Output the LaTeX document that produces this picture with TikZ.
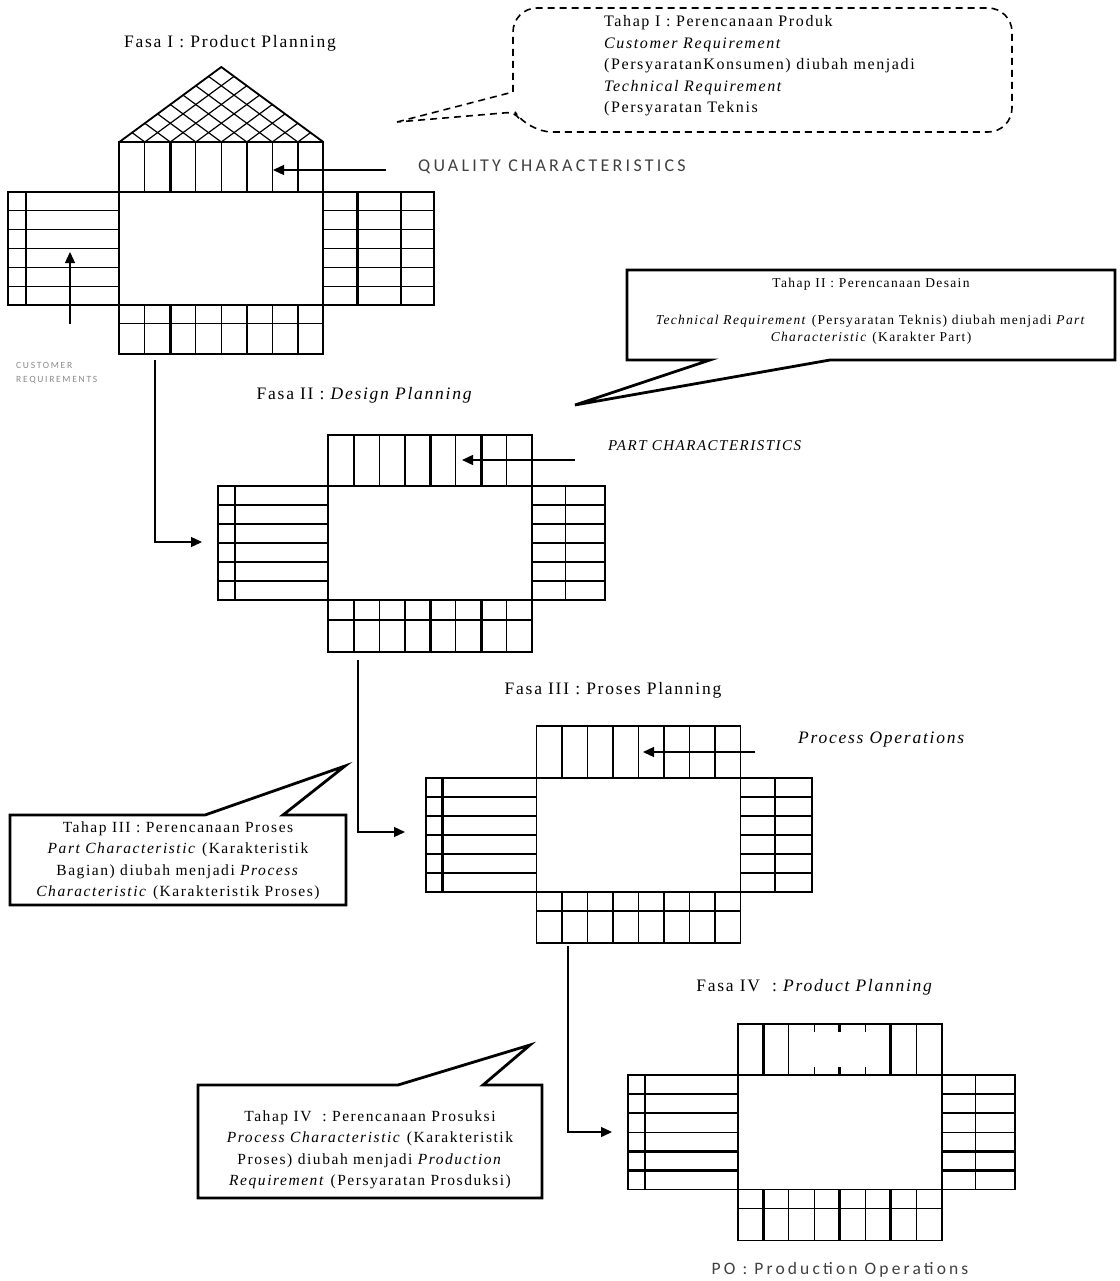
\documentclass[tikz,border=0pt]{standalone}
\usepackage{fontspec}
\setmainfont{Liberation Serif}[LetterSpace=10]
\newfontfamily\sansf{Carlito}[LetterSpace=18]
\usetikzlibrary{arrows.meta}
\definecolor{sgray}{HTML}{404040}
\definecolor{lgray}{HTML}{8A8A8A}
\begin{document}
\begin{tikzpicture}[x=1pt,y=-1pt,
  ln/.style={line width=1.2pt},
  lnk/.style={line width=2.6pt},
  lno/.style={line width=1.8pt},
  arr/.style={line width=1.3pt,-{Triangle[length=11pt,width=10pt]}},
  callout/.style={line width=2.8pt,line join=miter},
  dashc/.style={line width=1.6pt,dash pattern=on 7pt off 5pt},
  title/.style={font=\fontsize{17.5}{20}\selectfont,inner sep=0pt},
  ctext/.style={inner sep=0pt,align=center}]
\fill[white] (0,0) rectangle (1119,1281);
\useasboundingbox (0,0) rectangle (1119,1281);

% ================= Phase I =================
\node[title] (f1) at (230,43) {Fasa I : Product Planning};
\begin{scope}
  \clip (119.3,142) -- (221.3,67) -- (323.3,142) -- cycle;
  \foreach \k in {0,...,8} {
    \draw[ln] ({119.3+25.5*\k},142) -- ++(102,-75);
    \draw[ln] ({119.3+25.5*\k},142) -- ++(-102,-75);
  }
\end{scope}
\draw[lno,line join=miter] (119.3,142) -- (221.3,67) -- (323.3,142);
\draw[lno] (119.3,142) rectangle (323.3,354);
\draw[lno] (8.3,192) rectangle (434,305);
\foreach \k in {1,3,4,6} {
  \draw[ln] ({119.3+25.5*\k},142) -- ({119.3+25.5*\k},192);
  \draw[ln] ({119.3+25.5*\k},305) -- ({119.3+25.5*\k},354);
}
\foreach \k in {2,5,7} {
  \draw[lnk] ({119.3+25.5*\k},142) -- ({119.3+25.5*\k},192);
  \draw[lnk] ({119.3+25.5*\k},305) -- ({119.3+25.5*\k},354);
}
\draw[ln] (119.3,323.3) -- (323.3,323.3);
\foreach \r in {1,...,5} {
  \draw[ln] (8.3,{192+18.83*\r}) -- (119.3,{192+18.83*\r});
  \draw[ln] (323.3,{192+18.83*\r}) -- (434,{192+18.83*\r});
}
\draw[ln] (26,192) -- (26,305);
\draw[lnk] (357.3,192) -- (357.3,305);
\draw[ln] (401,192) -- (401,305);

\coordinate (qcS) at (386,170);
\coordinate (qcE) at (273,170);
\draw[arr] (qcS) -- (qcE);
\node[anchor=west,inner sep=0pt,text=sgray,font=\sansf\fontsize{18}{20}\selectfont] (qc) at (418,167) {QUALITY CHARACTERISTICS};

\coordinate (crS) at (70,324);
\coordinate (crE) at (70,252);
\draw[arr] (crS) -- (crE);
\node[anchor=north west,inner sep=0pt,align=left,text=lgray,font=\sansf\fontsize{9.5}{14}\selectfont] (cr) at (16,362) {CUSTOMER\\REQUIREMENTS};

% Callout I (dashed)
\coordinate (tipI) at (397,122);
\draw[dashc] (tipI) -- (513,92) [rounded corners=24pt] -- (513,8) -- (1012,8) -- (1012,132) -- (528,132) [rounded corners=8pt] -- (515,112) [sharp corners] -- cycle;
\node[anchor=north west,inner sep=0pt,align=left,font=\fontsize{16}{21.5}\selectfont] (t1) at (604,15.5) {Tahap I : Perencanaan Produk\\\textit{Customer Requirement}\\(PersyaratanKonsumen) diubah menjadi\\\textit{Technical Requirement}\\(Persyaratan Teknis};

% ================= Phase II =================
\node[title] (f2) at (365,395) {Fasa II : \textit{Design Planning}};
\draw[lno] (328.3,435) rectangle (532.3,652);
\draw[lno] (218.3,486) rectangle (605,600);
\foreach \k in {2,5,7} {
  \draw[ln] ({328.3+25.5*\k},435) -- ({328.3+25.5*\k},486);
  \draw[ln] ({328.3+25.5*\k},600) -- ({328.3+25.5*\k},652);
}
\foreach \k in {1,3,4,6} {
  \draw[lnk] ({328.3+25.5*\k},435) -- ({328.3+25.5*\k},486);
  \draw[lnk] ({328.3+25.5*\k},600) -- ({328.3+25.5*\k},652);
}
\draw[ln] (328.3,620) -- (532.3,620);
\foreach \r in {1,4,5} {
  \draw[ln] (218.3,{486+19*\r}) -- (328.3,{486+19*\r});
  \draw[ln] (532.3,{486+19*\r}) -- (605,{486+19*\r});
}
\foreach \r in {2,3} {
  \draw[lnk] (218.3,{486+19*\r}) -- (328.3,{486+19*\r});
  \draw[lnk] (532.3,{486+19*\r}) -- (605,{486+19*\r});
}
\draw[lnk] (235,486) -- (235,600);
\draw[ln] (565.7,486) -- (565.7,600);

\coordinate (p1out) at (155,360);
\coordinate (p2in) at (202,542);
\draw[arr] (p1out) |- (p2in);

\coordinate (pcS) at (575,460);
\coordinate (pcE) at (462,460);
\draw[arr] (pcS) -- (pcE);
\node[anchor=west,inner sep=0pt,font=\itshape\fontsize{15}{16}\selectfont] (pc) at (608,446) {PART CHARACTERISTICS};

% Callout II
\coordinate (tipII) at (575,405);
\draw[callout] (627,270) -- (1115,270) -- (1115,360) -- (830,360) -- (tipII) -- (710,360) -- (627,360) -- cycle;
\node[ctext,anchor=north,font=\fontsize{13.5}{17}\selectfont] (t2) at (871,278) {Tahap II : Perencanaan Desain\\[20pt]\textit{Technical Requirement} (Persyaratan Teknis) diubah menjadi \textit{Part}\\\textit{Characteristic} (Karakter Part)};

% ================= Phase III =================
\node[title] (f3) at (613,690) {Fasa III : Proses Planning};
\draw[lno] (536.5,726) rectangle (740.5,943);
\draw[lno] (426,778) rectangle (812,892);
\foreach \k in {2,4,6} {
  \draw[ln] ({536.5+25.5*\k},726) -- ({536.5+25.5*\k},778);
  \draw[ln] ({536.5+25.5*\k},892) -- ({536.5+25.5*\k},943);
}
\foreach \k in {1,3,5,7} {
  \draw[lnk] ({536.5+25.5*\k},726) -- ({536.5+25.5*\k},778);
  \draw[lnk] ({536.5+25.5*\k},892) -- ({536.5+25.5*\k},943);
}
\draw[ln] (536.5,911) -- (740.5,911);
\foreach \r in {3,4} {
  \draw[ln] (426,{778+19*\r}) -- (536.5,{778+19*\r});
  \draw[ln] (740.5,{778+19*\r}) -- (812,{778+19*\r});
}
\foreach \r in {1,2,5} {
  \draw[lnk] (426,{778+19*\r}) -- (536.5,{778+19*\r});
  \draw[lnk] (740.5,{778+19*\r}) -- (812,{778+19*\r});
}
\draw[lnk] (442.5,778) -- (442.5,892);
\draw[ln] (775,778) -- (775,892);

\coordinate (p2out) at (358,660);
\coordinate (p3in) at (405,832);
\draw[arr] (p2out) |- (p3in);

\coordinate (poS) at (755,752);
\coordinate (poE) at (643,752);
\draw[arr] (poS) -- (poE);
\node[anchor=west,inner sep=0pt,font=\itshape\fontsize{17.5}{20}\selectfont] (po) at (798,740) {Process Operations};

% Callout III
\coordinate (tipIII) at (345,766);
\draw[callout] (10,815) -- (205,815) -- (tipIII) -- (283,815) -- (346,815) -- (346,905) -- (10,905) -- cycle;
\node[ctext,font=\fontsize{15.5}{21.5}\selectfont] (t3) at (178,861) {Tahap III : Perencanaan Proses\\\textit{Part Characteristic} (Karakteristik\\Bagian) diubah menjadi \textit{Process}\\\textit{Characteristic} (Karakteristik Proses)};

% ================= Phase IV =================
\node[title] (f4) at (815,987) {Fasa IV\ \ : \textit{Product Planning}};
\draw[lno] (737.7,1024) rectangle (941.7,1240.5);
\draw[lno] (628,1075) rectangle (1015,1189.5);
\draw[lnk] ({737.7+25.5*1},1024) -- ++(0,51);
\draw[ln]  ({737.7+25.5*2},1024) -- ++(0,51);
\draw[lnk] ({737.7+25.5*6},1024) -- ++(0,51);
\draw[ln]  ({737.7+25.5*7},1024) -- ++(0,51);
\foreach \k in {3,5} {
  \draw[ln] ({737.7+25.5*\k},1024) -- ++(0,8);
  \draw[ln] ({737.7+25.5*\k},1075) -- ++(0,-8);
}
\draw[lnk] ({737.7+25.5*4},1024) -- ++(0,8);
\draw[lnk] ({737.7+25.5*4},1075) -- ++(0,-8);
\foreach \k in {2,3,5,7} {
  \draw[ln] ({737.7+25.5*\k},1189.5) -- ({737.7+25.5*\k},1240.5);
}
\foreach \k in {1,4,6} {
  \draw[lnk] ({737.7+25.5*\k},1189.5) -- ({737.7+25.5*\k},1240.5);
}
\draw[ln] (737.7,1208.7) -- (941.7,1208.7);
\foreach \r in {3} {
  \draw[ln] (628,{1075+19.08*\r}) -- (737.7,{1075+19.08*\r});
  \draw[ln] (941.7,{1075+19.08*\r}) -- (1015,{1075+19.08*\r});
}
\foreach \r in {1,2,4,5} {
  \draw[lnk] (628,{1075+19.08*\r}) -- (737.7,{1075+19.08*\r});
  \draw[lnk] (941.7,{1075+19.08*\r}) -- (1015,{1075+19.08*\r});
}
\draw[lnk] (645,1075) -- (645,1189.5);
\draw[ln] (975.7,1075) -- (975.7,1189.5);

\coordinate (p3out) at (568,946);
\coordinate (p4in) at (612,1132);
\draw[arr] (p3out) |- (p4in);

\node[inner sep=0pt,text=sgray,font=\sansf\fontsize{17.5}{20}\selectfont] (pol) at (840,1270) {PO : Production Operations};

% Callout IV
\coordinate (tipIV) at (530,1045);
\draw[callout] (198,1085) -- (398,1085) -- (tipIV) -- (483,1085) -- (542,1085) -- (542,1198) -- (198,1198) -- cycle;
\node[ctext,font=\fontsize{15.5}{21.5}\selectfont] (t4) at (370,1150) {Tahap IV\ \ : Perencanaan Prosuksi\\\textit{Process Characteristic} (Karakteristik\\Proses) diubah menjadi \textit{Production}\\\textit{Requirement} (Persyaratan Prosduksi)};
\end{tikzpicture}
\end{document}
